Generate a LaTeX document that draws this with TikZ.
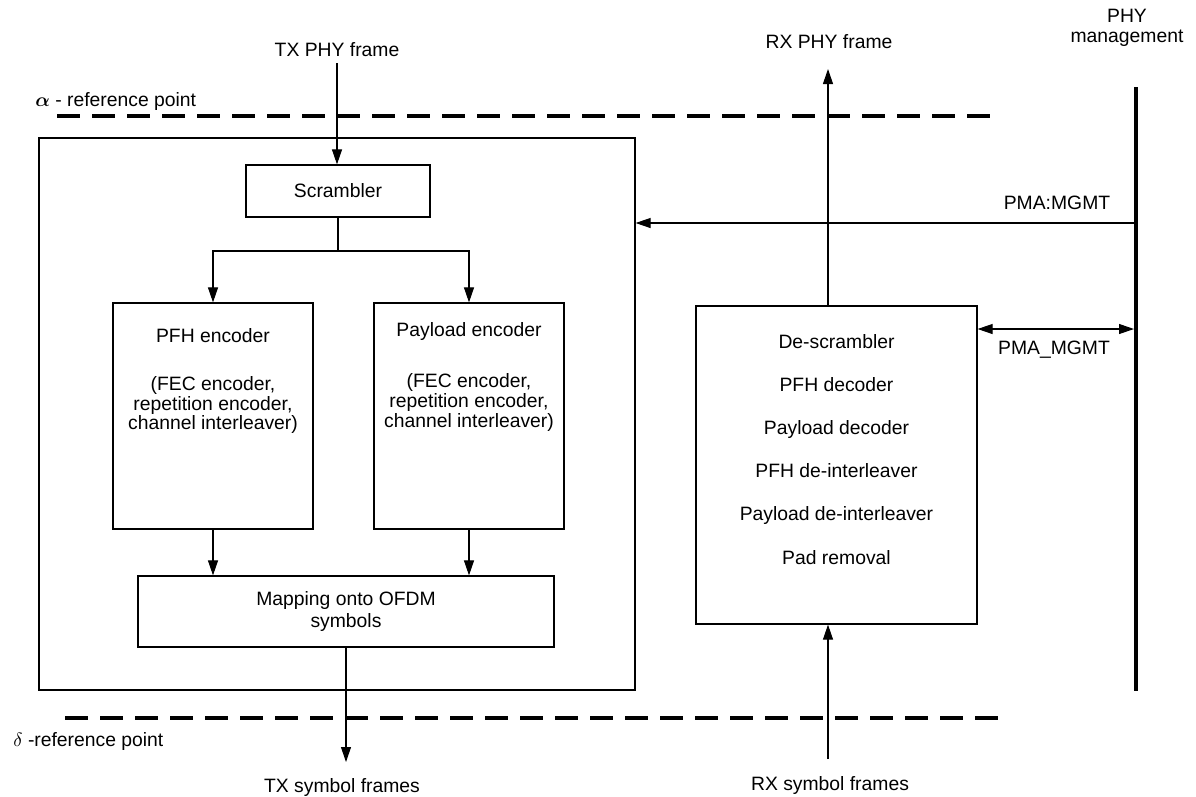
\documentclass[tikz,border=0pt]{standalone}
\usepackage{fontspec}
\setmainfont{Liberation Sans}
\usetikzlibrary{arrows.meta,positioning}

\tikzset{
    box/.style={draw, line width=0.7pt, inner sep=0pt},
    txt/.style={align=center, inner sep=0pt},
    arr/.style={line width=0.6pt, -{Triangle[length=0.3cm,width=0.2cm]}},
    darr/.style={line width=0.6pt, {Triangle[length=0.3cm,width=0.2cm]}-{Triangle[length=0.3cm,width=0.2cm]}},
    refline/.style={line width=2pt, dash pattern=on 0.46cm off 0.24cm},
}

\begin{document}
\begin{tikzpicture}[font=\fontsize{11pt}{11.2pt}\selectfont]
    \useasboundingbox (0,0) rectangle (23.92,-15.92);

    % reference points
    \draw[refline] (1.14,-2.32) -- (20.0,-2.32);
    \draw[refline] (1.3,-14.36) -- (20.18,-14.36);
    \node[txt, anchor=west] (alpharef) at (0.7,-2.02) {{\boldmath$\alpha$} - reference point};
    \node[txt, anchor=west] (deltaref) at (0.26,-14.82) {$\delta$ -reference point};

    % transmitter
    \node[box, minimum width=11.92cm, minimum height=11.04cm] (tx) at (6.74,-8.28) {};
    \node[box, minimum width=3.68cm, minimum height=1.04cm] (scr) at (6.76,-3.82) {Scrambler};
    \node[box, minimum width=4.0cm, minimum height=4.52cm] (pfh) at (4.26,-8.32) {};
    \node[box, minimum width=3.8cm, minimum height=4.52cm] (pay) at (9.38,-8.32) {};
    \node[txt, below=0.52cm of pfh.north] (pfhtxt) {PFH encoder\\[16pt] (FEC encoder,\\ repetition encoder,\\ channel interleaver)};
    \node[txt, below=0.4cm of pay.north] (paytxt) {Payload encoder\\[17.8pt] (FEC encoder,\\ repetition encoder,\\ channel interleaver)};
    \node[box, align=center, minimum width=8.32cm, minimum height=1.42cm, font=\fontsize{11pt}{12.5pt}\selectfont] (map) at (6.92,-12.23) {Mapping onto OFDM\\symbols};

    \node[txt] (txphy) at (6.74,-1.0) {TX PHY frame};
    \node[txt] (txsym) at (6.84,-15.74) {TX symbol frames};
    \coordinate (txtop) at (6.74,-1.26);
    \coordinate (txbot) at (6.92,-15.24);
    \coordinate (split) at (6.76,-5.02);

    \draw[arr] (txtop) -- (txtop |- scr.north);
    \draw[line width=0.6pt] (scr.south) -- (split);
    \draw[arr] (split) -| (pfh.north);
    \draw[arr] (split) -| (pay.north);
    \draw[arr] (pfh.south) -- (pfh.south |- map.north);
    \draw[arr] (pay.south) -- (pay.south |- map.north);
    \draw[arr] (map.south) -- (txbot);

    % receiver
    \node[box, minimum width=5.62cm, minimum height=6.36cm] (rx) at (16.73,-9.3) {};
    \node[txt, font=\fontsize{11pt}{24.5pt}\selectfont, below=0.58cm of rx.north] (rxtxt) {De-scrambler\\PFH decoder\\Payload decoder\\PFH de-interleaver\\Payload de-interleaver\\Pad removal};

    \node[txt] (rxphy) at (16.58,-0.84) {RX PHY frame};
    \node[txt] (rxsym) at (16.6,-15.7) {RX symbol frames};
    \coordinate (rxtop) at (16.56,-1.38);
    \coordinate (rxbot) at (16.56,-15.18);

    \draw[arr] (rxtop |- rx.north) -- (rxtop);
    \draw[arr] (rxbot) -- (rxbot |- rx.south);

    % management
    \node[txt, font=\fontsize{11pt}{11.4pt}\selectfont] (phymgmt) at (22.54,-0.55) {PHY\\management};
    \draw[line width=2.4pt] (22.72,-1.74) -- (22.72,-13.82);
    \coordinate (mgmta) at (22.68,-4.46);
    \coordinate (mgmtb) at (22.68,-6.58);
    \node[txt] (pmacol) at (21.14,-4.06) {PMA:MGMT};
    \node[txt] (pmaund) at (21.08,-7.0) {PMA\_MGMT};

    \draw[arr] (mgmta) -- (mgmta -| tx.east);
    \draw[darr] (rx.east |- mgmtb) -- (mgmtb);
\end{tikzpicture}
\end{document}
